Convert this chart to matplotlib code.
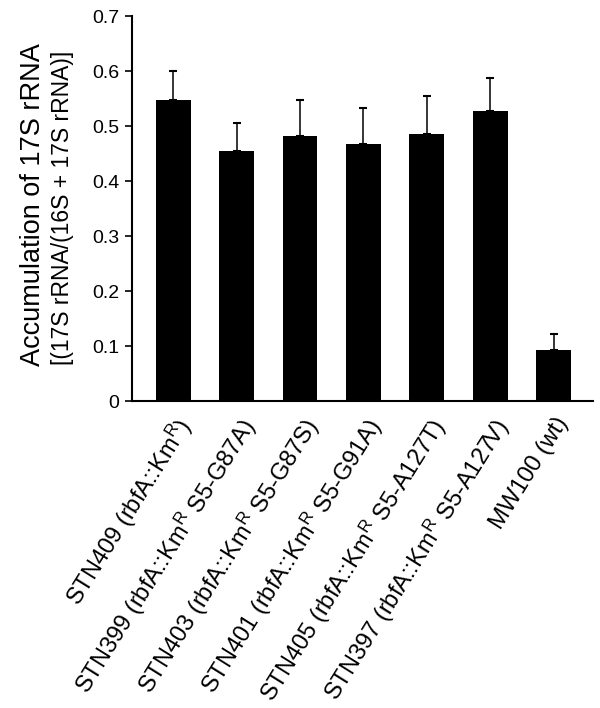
import matplotlib
matplotlib.use("Agg")
import matplotlib.pyplot as plt

plt.rcParams['font.family'] = ['Liberation Sans', 'DejaVu Sans']
plt.rcParams['mathtext.fontset'] = 'custom'
plt.rcParams['mathtext.rm'] = 'Liberation Sans'
plt.rcParams['mathtext.it'] = 'Liberation Sans:italic'

categories = [
    r'STN409 (rbfA::Km$^{\rm R}$)',
    r'STN399 (rbfA::Km$^{\rm R}$ S5-G87A)',
    r'STN403 (rbfA::Km$^{\rm R}$ S5-G87S)',
    r'STN401 (rbfA::Km$^{\rm R}$ S5-G91A)',
    r'STN405 (rbfA::Km$^{\rm R}$ S5-A127T)',
    r'STN397 (rbfA::Km$^{\rm R}$ S5-A127V)',
    'MW100 (wt)',
]
values = [0.548, 0.455, 0.482, 0.467, 0.485, 0.528, 0.092]
errors = [0.053, 0.050, 0.066, 0.066, 0.070, 0.060, 0.030]
yticks = [0, 0.1, 0.2, 0.3, 0.4, 0.5, 0.6, 0.7]
yticklabels = ['0', '0.1', '0.2', '0.3', '0.4', '0.5', '0.6', '0.7']

fig = plt.figure(figsize=(6.0, 7.08), dpi=100)
ax = fig.add_axes([0.22, 0.4336, 0.768, 0.5434])

x = list(range(len(categories)))
ax.bar(x, values, width=0.55, color='black', zorder=2)
ax.errorbar(x, values, yerr=[[0]*len(errors), errors], fmt='none',
            ecolor='black', elinewidth=1.1, capsize=3, capthick=1.5, zorder=3)

ax.set_xlim(-0.65, 6.62)
ax.set_ylim(0, 0.7)
ax.set_yticks(yticks)
ax.set_yticklabels(yticklabels, fontsize=14)
ax.set_xticks(x)
ax.set_xticklabels(categories, rotation=58, ha='right', rotation_mode='anchor', fontsize=17)
ax.tick_params(axis='x', length=0, pad=9)
ax.tick_params(axis='y', direction='out', length=5, width=1.2, pad=4)
for s in ['top', 'right']:
    ax.spines[s].set_visible(False)
for s in ['left', 'bottom']:
    ax.spines[s].set_linewidth(1.5)

fig.text(33/600, 1 - 205/708, 'Accumulation of 17S rRNA', rotation=90,
         ha='center', va='center', fontsize=19.5)
fig.text(63/600, 1 - 208/708, '[(17S rRNA/(16S + 17S rRNA)]', rotation=90,
         ha='center', va='center', fontsize=16.5)

fig.savefig('out.png', dpi=100)
